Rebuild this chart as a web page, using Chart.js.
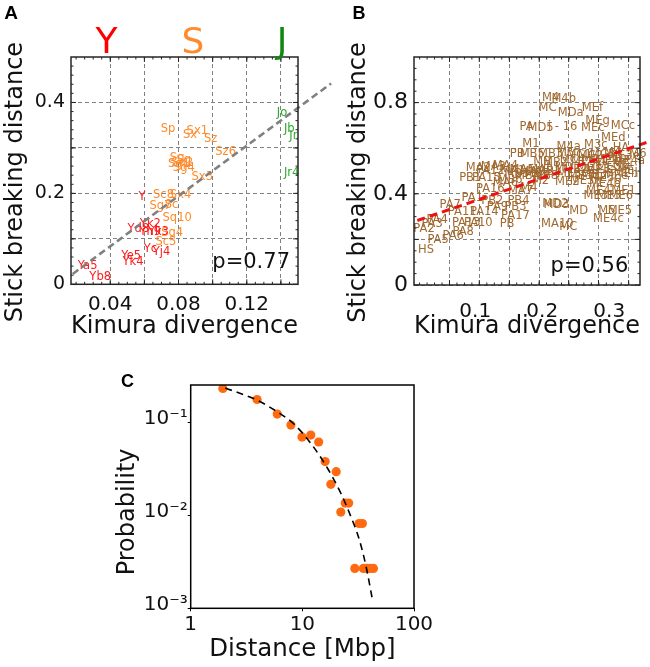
<!DOCTYPE html>
<html><head><meta charset="utf-8">
<script src="https://cdn.jsdelivr.net/npm/chart.js@4.4.0/dist/chart.umd.min.js"></script>
<style>
html,body{margin:0;padding:0;background:#fff;width:650px;height:667px;overflow:hidden;position:relative}
canvas{position:absolute}
</style></head><body>
<canvas id="cA" width="340" height="345" style="left:0px;top:0px"></canvas>
<canvas id="cB" width="320" height="345" style="left:330px;top:0px"></canvas>
<canvas id="cC" width="450" height="332" style="left:0px;top:335px"></canvas>
<script>
// ---------------- Panel A data ----------------
const A_Y_NAMES = ['Ya5','Yb8','Ye5','Yk4','Yc','Yj4','Y','Yk2','Yd8','Yh9','Yk3'];
const A_Y_X     = [0.0267,0.0341,0.0522,0.0533,0.0635,0.0700,0.0586,0.0635,0.0565,0.0635,0.0682];
const A_Y_Y     = [0.041,0.016,0.062,0.048,0.078,0.072,0.193,0.1326,0.1216,0.115,0.115];
const A_S_NAMES = ['Sp','Sx1','Sx','Sz','Sz6','Sg','Sq','Sg1','Sq2','Sg4','Sx3','Sc8','Sx4','Sg7','Sc','Sq10','Sq4','Sc5'];
const A_S_X     = [0.0739,0.0910,0.0867,0.0988,0.1076,0.0792,0.0831,0.0802,0.0822,0.0831,0.0939,0.0712,0.0812,0.0694,0.0759,0.0792,0.0763,0.0726];
const A_S_Y     = [0.3407,0.3377,0.3280,0.3194,0.2900,0.2770,0.2730,0.2637,0.2660,0.2564,0.2366,0.1963,0.1963,0.1720,0.1740,0.1450,0.1120,0.0930];
const A_J_NAMES = ['Jo','Jb','Jr','Jr4'];
const A_J_X     = [0.1406,0.1449,0.1473,0.1463];
const A_J_Y     = [0.3773,0.3414,0.3260,0.2454];
const A_FIT_X   = [0.018,0.1694];
const A_FIT_Y   = [0.0227,0.4418];
const A_X_TICKS = [0.04,0.06,0.08,0.10,0.12,0.14];
const A_X_TEXT  = ['0.04','','0.08','','0.12',''];
const A_Y_TICKS = [0,0.1,0.2,0.3,0.4];
const A_Y_TEXT  = ['0','','0.2','','0.4'];
const A_P = 'p=0.77';

// ---------------- Panel B data ----------------
const B_NAMES = ['HS','PA5','PA6','PA8','PA2','PA3','PA4','PA13','PA10','PA7','PA11','PA14','PA17','PB','PA1','PB2','PB4','PA9','PB3',
 'PA16','MA7','M4','MA6','PA15','PB1','PA12','MA2','MA3','MA4','MA1','MA5','MA8','MA9','MB1','MB3','MB4','MB7','MB8','MB6','M2','ME2',
 'PB','MB5','MB3','M5','MC1','MC2','MC3','M4','ME3e','M6','MB2','MB','MC4','MC5','MD1','ME1','MEa','ME4a','MD2','ME2a','ME3','ME3a','ME3b',
 'MEi','MEj','ME3c','ME3d','ME3f','ME3g','MEe','MEh','ME3h','ME4b','ME4','ME1','ME3','ME5','ME6','MD3','MD2','MD','MA10','MC','M5','ME5','ME4c',
 'M4','M4b','MC','MDa','MEf','MEg','PA','MD5','i - 16','MEc','MCc','MEd','M1','M4a','M3c','HA'];
const B_X = [0.0265,0.0445,0.0670,0.0820,0.0235,0.0355,0.0430,0.0865,0.1045,0.0625,0.0805,0.1135,0.1600,0.1475,0.0955,0.1255,0.1645,0.1330,0.1600,
 0.1225,0.1675,0.1800,0.1450,0.1165,0.0925,0.1225,0.1045,0.1270,0.1450,0.1560,0.1700,0.1850,0.1980,0.2100,0.1620,0.1780,0.1920,0.2050,0.1520,0.1975,0.2375,
 0.1625,0.1850,0.2125,0.2350,0.2550,0.2720,0.2900,0.3050,0.3220,0.3430,0.2200,0.2000,0.2450,0.2620,0.2780,0.2970,0.3120,0.3300,0.2380,0.2550,0.2700,0.2880,0.3050,
 0.3200,0.3275,0.2450,0.2620,0.2800,0.2950,0.3100,0.3250,0.2650,0.2935,0.2838,0.3213,0.2800,0.2995,0.3175,0.2215,0.2195,0.2545,0.2225,0.2388,0.2965,0.3160,0.2988,
 0.2125,0.2320,0.2080,0.2425,0.2750,0.2825,0.1765,0.1975,0.2305,0.2755,0.3205,0.3060,0.1830,0.2395,0.2800,0.3175];
const B_Y = [0.154,0.198,0.216,0.233,0.247,0.269,0.286,0.274,0.274,0.352,0.320,0.320,0.304,0.269,0.383,0.370,0.370,0.342,0.342,
 0.421,0.411,0.426,0.449,0.471,0.471,0.498,0.512,0.518,0.524,0.500,0.505,0.497,0.505,0.495,0.485,0.480,0.488,0.478,0.462,0.455,0.452,
 0.573,0.573,0.575,0.578,0.570,0.566,0.572,0.578,0.566,0.573,0.536,0.540,0.548,0.540,0.550,0.545,0.552,0.545,0.512,0.505,0.515,0.505,0.518,
 0.528,0.499,0.488,0.478,0.482,0.470,0.478,0.485,0.456,0.443,0.411,0.411,0.389,0.389,0.389,0.352,0.354,0.326,0.269,0.254,0.323,0.323,0.289,
 0.818,0.815,0.775,0.756,0.778,0.720,0.693,0.688,0.693,0.690,0.696,0.646,0.620,0.604,0.614,0.599];
const B_FIT_X = [0.0135,0.3575];
const B_FIT_Y = [0.283,0.627];
const B_GRID_X = [0.0615,0.1060,0.1510,0.1955,0.2395,0.2840,0.3290];
const B_X_TICKS = [0.1,0.2,0.3];
const B_X_TEXT = ['0.1','0.2','0.3'];
const B_Y_TICKS = [0,0.2,0.4,0.6,0.8];
const B_Y_TEXT = ['0','','0.4','','0.8'];
const B_P = 'p=0.56';

// ---------------- Panel C data ----------------
const C_X = [1.94,3.93,5.96,7.9,9.93,11.9,14.0,16.0,20.1,18.0,24.2,26.0,22.1,32.2,34.5,29.5,35.2,37.8,40.4,43.3];
const C_Y = [0.234,0.178,0.124,0.0944,0.0701,0.0736,0.0620,0.0381,0.0297,0.0217,0.0136,0.0136,0.0109,0.0082,0.0082,0.00269,0.00269,0.00269,0.00269,0.00269];
const C_FIT_X = [2.04,3.93,5.96,8.41,11.9,16.8,22.1,27.2,32.4,37.2,42.7];
const C_FIT_Y = [0.237,0.175,0.131,0.0968,0.060,0.0323,0.0174,0.00975,0.00547,0.00283,0.00119];
const C_X_TICKS = [1,10,100];
const C_X_TEXT = ['1','10','100'];
const C_Y_TICKS = [0.001,0.01,0.1];
const C_Y_TEXT = ['10\u207B\u00B3','10\u207B\u00B2','10\u207B\u00B9'];

// ---------------- helpers ----------------
const FONT = 'DejaVu Sans';
const INK = '#111';
Chart.defaults.font.family = FONT;
Chart.defaults.color = INK;
function pts(xs, ys){ return xs.map((x,i)=>({x:x, y:ys[i]})); }
function steps(a,b,s){ const o=[]; for(let k=0;a+k*s<=b+1e-9;k++) o.push(+(a+k*s).toFixed(6)); return o; }
function setTicks(vals){ return (s)=>{ s.ticks = vals.map(v=>({value:v})); }; }
function labelsOf(texts){ return (v,i)=>texts[i]; }

const textLabelPlugin = {
  id:'textLabels',
  afterDatasetDraw(chart, args){
    const ds = chart.data.datasets[args.index];
    if(!ds.textLabels) return;
    const ctx = chart.ctx;
    ctx.save();
    ctx.font = '11.5px "' + FONT + '"';
    ctx.fillStyle = ds.textColor;
    ctx.textAlign = 'center'; ctx.textBaseline = 'middle';
    args.meta.data.forEach((el,i)=>{ ctx.fillText(ds.textLabels[i], el.x, el.y); });
    ctx.restore();
  }
};
function makeFrame(cfg){
  return { id:'frameTicks', afterDraw(chart){
    const {ctx, chartArea:a, scales} = chart;
    ctx.save();
    ctx.strokeStyle = cfg.color; ctx.lineWidth = cfg.width;
    ctx.strokeRect(a.left, a.top, a.right-a.left, a.bottom-a.top);
    ctx.lineWidth = 1;
    (cfg.ticks||[]).forEach(t=>{
      const sc = scales[t.scale];
      t.values.forEach(v=>{
        const p = sc.getPixelForValue(v);
        ctx.beginPath();
        if(sc.isHorizontal()){
          if(p<a.left-0.5||p>a.right+0.5) return;
          ctx.moveTo(p,a.bottom); ctx.lineTo(p,a.bottom-t.len);
          ctx.moveTo(p,a.top); ctx.lineTo(p,a.top+t.len);
        } else {
          if(p<a.top-0.5||p>a.bottom+0.5) return;
          ctx.moveTo(a.left,p); ctx.lineTo(a.left+t.len,p);
          ctx.moveTo(a.right,p); ctx.lineTo(a.right-t.len,p);
        }
        ctx.stroke();
      });
    });
    ctx.restore();
  }};
}
function makeAnnot(items){
  return { id:'annot', afterDraw(chart){
    const ctx = chart.ctx;
    items.forEach(it=>{
      ctx.save();
      ctx.font = it.font; ctx.fillStyle = it.color;
      ctx.textAlign = it.align || 'center'; ctx.textBaseline = it.baseline || 'middle';
      ctx.fillText(it.text, it.x, it.y);
      ctx.restore();
    });
  }};
}
const GRID = {color:'#808080', lineWidth:1, drawTicks:false};
const BORDER = {display:false, dash:[4,3]};

// ---------------- Chart A ----------------
new Chart(document.getElementById('cA'), {
  type:'scatter',
  data:{ datasets:[
    {data:pts(A_FIT_X,A_FIT_Y), showLine:true, borderColor:'#808080', borderWidth:2.6, borderDash:[7,4], pointRadius:0, clip:false, fill:false},
    {data:pts(A_Y_X,A_Y_Y), pointRadius:0, textLabels:A_Y_NAMES, textColor:'#ff1a1a', clip:false},
    {data:pts(A_S_X,A_S_Y), pointRadius:0, textLabels:A_S_NAMES, textColor:'#ff8a2b', clip:false},
    {data:pts(A_J_X,A_J_Y), pointRadius:0, textLabels:A_J_NAMES, textColor:'#2fa82f', clip:false}
  ]},
  options:{
    responsive:false, animation:false, events:[], devicePixelRatio:1,
    layout:{autoPadding:false, padding:{left:1.6, top:57, right:42, bottom:3.6}},
    plugins:{legend:{display:false}, tooltip:{enabled:false}},
    scales:{
      x:{type:'linear', min:0.017, max:0.150, afterBuildTicks:setTicks(A_X_TICKS), afterFit:(s)=>{s.height=57.1;},
         grid:GRID, border:BORDER,
         ticks:{font:{size:20}, color:INK, padding:8, maxRotation:0, autoSkip:false, callback:labelsOf(A_X_TEXT)},
         title:{display:true, text:'Kimura divergence', font:{size:25}, color:INK, padding:{top:0,bottom:0}}},
      y:{type:'linear', min:0, max:0.5, afterBuildTicks:setTicks(A_Y_TICKS), afterFit:(s)=>{s.width=69.4;},
         grid:GRID, border:BORDER,
         ticks:{font:{size:19}, color:INK, padding:6, autoSkip:false, callback:labelsOf(A_Y_TEXT)},
         title:{display:true, text:'Stick breaking distance   ', font:{size:24}, color:INK, padding:{top:0,bottom:0}}}
    }
  },
  plugins:[textLabelPlugin,
    makeFrame({color:'#262626', width:1.5, ticks:[
      {scale:'x', values:A_X_TICKS, len:5}, {scale:'x', values:steps(0.02,0.145,0.005), len:2.5},
      {scale:'y', values:A_Y_TICKS, len:5}, {scale:'y', values:steps(0.02,0.48,0.02), len:2.5}]}),
    makeAnnot([
      {text:'A', x:11.2, y:13.5, font:'bold 19px "Liberation Sans"', color:'#000'},
      {text:'Y', x:106.5, y:53, font:'36px "DejaVu Sans"', color:'#ff0000', baseline:'alphabetic'},
      {text:'S', x:193, y:53, font:'36px "DejaVu Sans"', color:'#ff8a2b', baseline:'alphabetic'},
      {text:'J', x:282, y:53, font:'36px "DejaVu Sans"', color:'#118811', baseline:'alphabetic'},
      {text:A_P, x:290, y:268, font:'21px "DejaVu Sans"', color:INK, align:'right', baseline:'alphabetic'}
    ])]
});

// ---------------- Chart B ----------------
new Chart(document.getElementById('cB'), {
  type:'scatter',
  data:{ datasets:[
    {data:pts(B_FIT_X,B_FIT_Y), showLine:true, borderColor:'#ee1111', borderWidth:3, borderDash:[8,5], pointRadius:0, clip:false, fill:false},
    {data:pts(B_X,B_Y), pointRadius:0, textLabels:B_NAMES, textColor:'#a0692f', clip:false}
  ]},
  options:{
    responsive:false, animation:false, events:[], devicePixelRatio:1,
    layout:{autoPadding:false, padding:{left:14.1, top:57, right:10, bottom:3.6}},
    plugins:{legend:{display:false}, tooltip:{enabled:false}},
    scales:{
      x:{type:'linear', position:'bottom', min:0.0085, max:0.346, afterBuildTicks:setTicks(B_GRID_X), afterFit:(s)=>{s.height=0;},
         grid:GRID, border:BORDER, ticks:{display:false}},
      x2:{type:'linear', position:'bottom', min:0.0085, max:0.346, afterBuildTicks:setTicks(B_X_TICKS), afterFit:(s)=>{s.height=56.4;},
         grid:{display:false}, border:{display:false},
         ticks:{font:{size:20}, color:INK, padding:7, maxRotation:0, autoSkip:false, callback:labelsOf(B_X_TEXT)},
         title:{display:true, text:'Kimura divergence', font:{size:25}, color:INK, padding:{top:0,bottom:0}}},
      y:{type:'linear', min:0, max:1.0, afterBuildTicks:setTicks(B_Y_TICKS), afterFit:(s)=>{s.width=69.9;},
         grid:GRID, border:BORDER,
         ticks:{font:{size:22}, color:INK, padding:6, autoSkip:false, callback:labelsOf(B_Y_TEXT)},
         title:{display:true, text:'Stick breaking distance   ', font:{size:24}, color:INK, padding:{top:0,bottom:0}}}
    }
  },
  plugins:[textLabelPlugin,
    makeFrame({color:'#262626', width:1.5, ticks:[
      {scale:'x', values:B_GRID_X, len:5}, {scale:'x', values:steps(0.0169,0.34,0.01115), len:2.5},
      {scale:'y', values:B_Y_TICKS, len:5}, {scale:'y', values:steps(0.05,0.95,0.05), len:2.5}]}),
    makeAnnot([
      {text:'B', x:29, y:13.7, font:'bold 18px "Liberation Sans"', color:'#000'},
      {text:B_P, x:298.3, y:271.7, font:'21px "DejaVu Sans"', color:INK, align:'right', baseline:'alphabetic'}
    ])]
});

// ---------------- Chart C ----------------
new Chart(document.getElementById('cC'), {
  type:'scatter',
  data:{ datasets:[
    {data:pts(C_FIT_X,C_FIT_Y), showLine:true, borderColor:'#000', borderWidth:1.6, borderDash:[7,5], pointRadius:0, cubicInterpolationMode:'monotone', fill:false},
    {data:pts(C_X,C_Y), pointRadius:4.6, backgroundColor:'#ff6a10', borderWidth:0}
  ]},
  options:{
    responsive:false, animation:false, events:[], devicePixelRatio:1,
    layout:{autoPadding:false, padding:{left:113, top:50, right:36, bottom:3}},
    plugins:{legend:{display:false}, tooltip:{enabled:false}},
    scales:{
      x:{type:'logarithmic', min:1, max:100, afterBuildTicks:setTicks(C_X_TICKS), afterFit:(s)=>{s.height=55.7;},
         grid:{display:true, drawOnChartArea:false, drawTicks:true, tickLength:3, color:'#000'}, border:{display:false},
         ticks:{font:{size:20}, color:INK, padding:1, maxRotation:0, autoSkip:false, callback:labelsOf(C_X_TEXT)},
         title:{display:true, text:'Distance [Mbp]', font:{size:24.5}, color:INK, padding:{top:0,bottom:0}}},
      y:{type:'logarithmic', min:0.001, max:0.255, afterBuildTicks:setTicks(C_Y_TICKS), afterFit:(s)=>{s.width=77.7;},
         grid:{display:true, drawOnChartArea:false, drawTicks:true, tickLength:3, color:'#000'}, border:{display:false},
         ticks:{font:{size:20}, color:INK, padding:0, labelOffset:-4, autoSkip:false, callback:labelsOf(C_Y_TEXT)},
         title:{display:true, text:'Probability    ', font:{size:24}, color:INK, padding:{top:0,bottom:0}}}
    }
  },
  plugins:[makeFrame({color:'#000', width:1.5, ticks:[]}),
    makeAnnot([{text:'C', x:127.5, y:46.7, font:'bold 18px "Liberation Sans"', color:'#000'}])]
});
</script>
</body></html>
